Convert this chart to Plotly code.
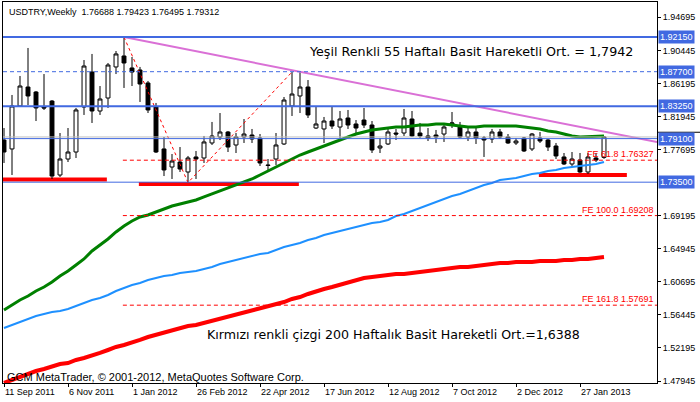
import pandas as pd
import plotly.graph_objects as go

# ---------------- data ----------------
START = "2011-09-11"
N_BARS = 76
DATES = pd.date_range(START, periods=N_BARS, freq="7D")

OPEN = [1.7892, 1.7777, 1.8329, 1.8573, 1.8509, 1.8316, 1.8393, 1.7442, 1.7648, 1.7738,
        1.8316, 1.8766, 1.8265, 1.8432, 1.8831, 1.8972, 1.8818, 1.8792, 1.8625, 1.8316,
        1.7777, 1.7545, 1.7609, 1.7481, 1.7674, 1.7661, 1.7854, 1.7931, 1.7995, 1.7828,
        1.7931, 1.7956, 1.7918, 1.7571, 1.7648, 1.7841, 1.8329, 1.8458, 1.8573, 1.8046,
        1.8034, 1.8136, 1.8059, 1.8175, 1.8098, 1.8149, 1.8085, 1.7789, 1.7841, 1.7982,
        1.7982, 1.8162, 1.7982, 1.7944, 1.7956, 1.7969, 1.8098, 1.8059, 1.7931, 1.7995,
        1.7918, 1.7905, 1.7995, 1.7931, 1.7854, 1.7918, 1.7777, 1.7918, 1.7892, 1.7815,
        1.7674, 1.7584, 1.7635, 1.7481, 1.7661, 1.76688]
HIGH = [1.8046, 1.8471, 1.8715, 1.9075, 1.8522, 1.8740, 1.8406, 1.7982, 1.8046, 1.8304,
        1.8920, 1.8998, 1.8586, 1.8882, 1.9036, 1.9215, 1.8959, 1.8831, 1.8651, 1.8368,
        1.7931, 1.7712, 1.7802, 1.7687, 1.7751, 1.7944, 1.8124, 1.8239, 1.8008, 1.7982,
        1.8162, 1.8034, 1.7969, 1.7648, 1.7982, 1.8445, 1.8766, 1.8770, 1.8663, 1.8316,
        1.8188, 1.8316, 1.8265, 1.8278, 1.8149, 1.8304, 1.8136, 1.7918, 1.8034, 1.8034,
        1.8291, 1.8265, 1.8111, 1.8046, 1.8021, 1.8085, 1.8252, 1.8124, 1.8046, 1.8046,
        1.7944, 1.8034, 1.8034, 1.7969, 1.7918, 1.7931, 1.7982, 1.7995, 1.7905, 1.7854,
        1.7725, 1.7738, 1.7725, 1.7725, 1.7725, 1.79423]
LOW = [1.7597, 1.7442, 1.8316, 1.8342, 1.8136, 1.8278, 1.7391, 1.7417, 1.7609, 1.7661,
       1.8214, 1.8111, 1.8214, 1.8304, 1.8740, 1.8561, 1.8586, 1.8381, 1.8239, 1.7725,
       1.7429, 1.7391, 1.7481, 1.7345, 1.7391, 1.7597, 1.7828, 1.7892, 1.7738, 1.7725,
       1.7854, 1.7854, 1.7558, 1.7507, 1.7571, 1.7828, 1.8201, 1.8239, 1.8175, 1.8034,
       1.7854, 1.8034, 1.7918, 1.8034, 1.7956, 1.8046, 1.7725, 1.7725, 1.7828, 1.7892,
       1.7944, 1.7931, 1.7918, 1.7879, 1.7854, 1.7867, 1.8046, 1.7918, 1.7879, 1.7841,
       1.7674, 1.7854, 1.7905, 1.7841, 1.7828, 1.7738, 1.7751, 1.7854, 1.7751, 1.7648,
       1.7571, 1.7545, 1.7468, 1.7455, 1.7609, 1.76495]
CLOSE = [1.7738, 1.8329, 1.8586, 1.8458, 1.8304, 1.8304, 1.7429, 1.7648, 1.7738, 1.8278,
         1.8843, 1.8265, 1.8419, 1.8856, 1.8998, 1.8882, 1.8766, 1.8612, 1.8278, 1.7738,
         1.7507, 1.7622, 1.7519, 1.7661, 1.7648, 1.7867, 1.7944, 1.7995, 1.7802, 1.7931,
         1.7969, 1.7905, 1.7597, 1.7565, 1.7828, 1.8406, 1.8483, 1.8573, 1.8214, 1.8098,
         1.8136, 1.8072, 1.8162, 1.8085, 1.8046, 1.8085, 1.7764, 1.7815, 1.7995, 1.7969,
         1.8175, 1.7944, 1.7944, 1.7918, 1.7931, 1.8059, 1.8111, 1.7931, 1.7995, 1.7918,
         1.7892, 1.7995, 1.7931, 1.7854, 1.7879, 1.7751, 1.7969, 1.7879, 1.7802, 1.7687,
         1.7584, 1.7648, 1.7481, 1.7674, 1.7635, 1.79312]

SMA_55 = [1.5707, 1.5771, 1.5836, 1.5887, 1.5951, 1.6003, 1.6067, 1.6144, 1.6208, 1.6286,
          1.6363, 1.6466, 1.6543, 1.6620, 1.6710, 1.6787, 1.6851, 1.6903, 1.6928, 1.6967,
          1.7005, 1.7044, 1.7070, 1.7095, 1.7121, 1.7160, 1.7198, 1.7237, 1.7275, 1.7314,
          1.7352, 1.7391, 1.7442, 1.7494, 1.7545, 1.7597, 1.7648, 1.7699, 1.7738, 1.7777,
          1.7815, 1.7854, 1.7892, 1.7931, 1.7969, 1.7995, 1.8021, 1.8034, 1.8046, 1.8059,
          1.8059, 1.8072, 1.8085, 1.8085, 1.8098, 1.8098, 1.8085, 1.8072, 1.8059, 1.8059,
          1.8072, 1.8072, 1.8072, 1.8072, 1.8072, 1.8059, 1.8046, 1.8034, 1.8008, 1.7995,
          1.7969, 1.7944, 1.7931, 1.7935, 1.7938, 1.7942]
SMA_100 = [1.5476, 1.5514, 1.5553, 1.5592, 1.5630, 1.5656, 1.5682, 1.5694, 1.5720, 1.5759,
           1.5797, 1.5836, 1.5861, 1.5900, 1.5951, 1.5990, 1.6029, 1.6054, 1.6093, 1.6119,
           1.6144, 1.6157, 1.6183, 1.6196, 1.6208, 1.6234, 1.6260, 1.6298, 1.6324, 1.6350,
           1.6376, 1.6401, 1.6427, 1.6440, 1.6478, 1.6517, 1.6543, 1.6568, 1.6607, 1.6633,
           1.6671, 1.6697, 1.6723, 1.6748, 1.6774, 1.6800, 1.6825, 1.6838, 1.6864, 1.6915,
           1.6941, 1.6980, 1.7018, 1.7057, 1.7095, 1.7134, 1.7172, 1.7198, 1.7237, 1.7275,
           1.7314, 1.7340, 1.7378, 1.7391, 1.7404, 1.7430, 1.7455, 1.7468, 1.7494, 1.7507,
           1.7532, 1.7545, 1.7558, 1.7571, 1.7584, 1.7609]
SMA_200 = [1.4769, 1.4808, 1.4846, 1.4885, 1.4923, 1.4949, 1.4987, 1.5013, 1.5026, 1.5065,
           1.5090, 1.5129, 1.5155, 1.5193, 1.5232, 1.5257, 1.5296, 1.5322, 1.5360, 1.5386,
           1.5424, 1.5450, 1.5476, 1.5502, 1.5514, 1.5540, 1.5566, 1.5604, 1.5630, 1.5656,
           1.5682, 1.5707, 1.5733, 1.5759, 1.5784, 1.5810, 1.5849, 1.5874, 1.5913, 1.5951,
           1.5977, 1.6003, 1.6029, 1.6054, 1.6093, 1.6119, 1.6131, 1.6144, 1.6157, 1.6170,
           1.6170, 1.6183, 1.6196, 1.6208, 1.6221, 1.6234, 1.6247, 1.6260, 1.6260, 1.6273,
           1.6286, 1.6298, 1.6311, 1.6311, 1.6324, 1.6324, 1.6324, 1.6337, 1.6337, 1.6337,
           1.6350, 1.6350, 1.6363, 1.6363, 1.6376, 1.6388]

for arr in (OPEN, HIGH, LOW, CLOSE, SMA_55, SMA_100, SMA_200):
    assert len(arr) == N_BARS, len(arr)

# axis ticks (1.73445 is hidden behind the 1.73500 box in the original)
Y_TICKS = [1.47945, 1.52195, 1.56445, 1.60695, 1.64945, 1.69195,
           1.77695, 1.81945, 1.86195, 1.90445, 1.94695]
X_TICK_LABELS = ["11 Sep 2011", "6 Nov 2011", "1 Jan 2012", "26 Feb 2012", "22 Apr 2012",
                 "17 Jun 2012", "12 Aug 2012", "7 Oct 2012", "2 Dec 2012", "27 Jan 2013"]

# horizontal levels (blue)
LEVELS = [1.92150, 1.87700, 1.83250, 1.79100, 1.73500]
LEVEL_STYLE = ["solid", "4px,3px", "solid", "solid", "solid"]
LEVEL_WIDTH = [2, 1, 2, 1, 1]
BID = 1.79312

# Fibonacci expansion
FE_NAMES = ["FE 61.8", "FE 100.0", "FE 161.8"]
FE_LEVELS = [1.76327, 1.69208, 1.57691]
FE_START = "2011-12-24"
FIB_IDX = [15, 23, 36]
FIB_PRICES = [1.9215, 1.7345, 1.8766]

# trend line (two anchor points)
TREND_IDX = [15, 36]
TREND_PRICES = [1.9215, 1.8790]

# red support segments
SUP_START = ["2011-09-10", "2012-01-07", "2012-12-22"]
SUP_END = ["2011-12-10", "2012-05-26", "2013-03-09"]
SUP_PRICE = [1.7384, 1.7328, 1.7442]

TITLE = "USDTRY,Weekly\u00a0\u00a01.76688 1.79423 1.76495 1.79312"
TXT_GREEN = "Yeşil Renkli 55 Haftalı Basit Hareketli Ort. = 1,7942"
TXT_RED = "Kırmızı renkli çizgi 200 Haftalık Basit Hareketli Ort.=1,6388"
TXT_COPY = "GCM MetaTrader, © 2001-2012, MetaQuotes Software Corp."

X_START = pd.Timestamp("2011-09-10 03:00")
X_END = pd.Timestamp("2013-04-04 09:00")
Y_RANGE = [1.47689, 1.96659]

ROYAL = "#4169E1"
SMALL = dict(family="Liberation Sans, Arial, sans-serif", size=9, color="black")

# ---------------- figure ----------------
fig = go.Figure()
fig.add_trace(go.Candlestick(
    x=DATES, open=OPEN, high=HIGH, low=LOW, close=CLOSE,
    increasing=dict(line=dict(color="black", width=1), fillcolor="white"),
    decreasing=dict(line=dict(color="black", width=1), fillcolor="black"),
    whiskerwidth=0, hoverinfo="skip", showlegend=False))

fig.add_trace(go.Scatter(x=DATES, y=SMA_200, mode="lines",
                         line=dict(color="#FF0000", width=4), showlegend=False))
fig.add_trace(go.Scatter(x=DATES, y=SMA_100, mode="lines",
                         line=dict(color="#1E90FF", width=2), showlegend=False))
fig.add_trace(go.Scatter(x=DATES, y=SMA_55, mode="lines",
                         line=dict(color="#008000", width=3), showlegend=False))

# Fibonacci zigzag
fig.add_trace(go.Scatter(x=[DATES[i] for i in FIB_IDX], y=FIB_PRICES, mode="lines",
                         line=dict(color="#FF0000", width=1, dash="dot"), showlegend=False))

# trend line extended to right edge
d0, d1 = DATES[TREND_IDX[0]], DATES[TREND_IDX[1]]
slope = (TREND_PRICES[1] - TREND_PRICES[0]) / (d1 - d0).total_seconds()
p_end = TREND_PRICES[0] + slope * (X_END - d0).total_seconds()
fig.add_trace(go.Scatter(x=[d0, X_END], y=[TREND_PRICES[0], p_end], mode="lines",
                         line=dict(color="#DA70D6", width=2), showlegend=False))

shapes = []
shapes.append(dict(type="line", xref="paper", x0=0, x1=1, yref="y", y0=BID, y1=BID,
                   line=dict(color="#C0C0C0", width=1), layer="above"))
for lv, st, w in zip(LEVELS, LEVEL_STYLE, LEVEL_WIDTH):
    shapes.append(dict(type="line", xref="paper", x0=0, x1=1, yref="y", y0=lv, y1=lv,
                       line=dict(color=ROYAL, width=w, dash=st), layer="above"))
for lv in FE_LEVELS:
    shapes.append(dict(type="line", xref="x", x0=FE_START, x1=X_END, yref="y", y0=lv, y1=lv,
                       line=dict(color="#FF0000", width=1, dash="4px,3px"), layer="above"))
for s, e, p in zip(SUP_START, SUP_END, SUP_PRICE):
    shapes.append(dict(type="line", xref="x", x0=s, x1=e, yref="y", y0=p, y1=p,
                       line=dict(color="#FF0000", width=4), layer="below"))
# edge of the bid-price marker peeking above the 1.79100 box on the axis
shapes.append(dict(type="rect", xref="paper", x0=1.0015, x1=1.07, yref="y",
                   y0=BID + 0.0054, y1=BID + 0.0068, line=dict(width=0),
                   fillcolor="black", layer="above"))

ann = []
ann.append(dict(xref="paper", yref="paper", x=0, y=1, xanchor="left", yanchor="top",
                xshift=4, yshift=-3, text=TITLE, showarrow=False, font=SMALL))
for name, lv in zip(FE_NAMES, FE_LEVELS):
    ann.append(dict(xref="paper", yref="y", x=1, y=lv, xanchor="right", yanchor="bottom",
                    xshift=-1, yshift=-1, text=f"{name} {lv:.5f}", showarrow=False,
                    font=dict(family=SMALL["family"], size=9, color="#FF0000")))
ann.append(dict(xref="paper", yref="paper", x=0.4648, y=0.8688, xanchor="left", yanchor="middle",
                text=TXT_GREEN, showarrow=False,
                font=dict(family="DejaVu Sans", size=12.7, color="black")))
ann.append(dict(xref="paper", yref="paper", x=0.3089, y=0.1286, xanchor="left", yanchor="middle",
                text=TXT_RED, showarrow=False,
                font=dict(family="DejaVu Sans", size=12.6, color="black")))
ann.append(dict(xref="paper", yref="paper", x=0, y=0.0165, xanchor="left", yanchor="middle",
                xshift=2, text=TXT_COPY, showarrow=False,
                font=dict(family=SMALL["family"], size=11, color="black")))
for lv in LEVELS:
    ann.append(dict(xref="paper", yref="y", x=1, y=lv, xanchor="left", yanchor="middle",
                    xshift=1, text=f"{lv:.5f}", showarrow=False, bgcolor=ROYAL,
                    borderpad=1, font=dict(family=SMALL["family"], size=9, color="white")))

fig.update_layout(
    width=700, height=402,
    margin=dict(l=3, r=43, t=2, b=19, autoexpand=False),
    paper_bgcolor="white", plot_bgcolor="white",
    shapes=shapes, annotations=ann, showlegend=False,
    xaxis=dict(type="date", range=[X_START, X_END], rangeslider=dict(visible=False),
               tickvals=list(DATES[::8]), ticktext=X_TICK_LABELS, automargin=False,
               ticklabelposition="outside right", ticks="outside", ticklen=3,
               tickcolor="black", showline=True, linecolor="black", linewidth=1,
               mirror=True, showgrid=False, zeroline=False, tickfont=SMALL),
    yaxis=dict(side="right", range=Y_RANGE, tickvals=Y_TICKS, automargin=False,
               ticktext=[f"{v:.5f}" for v in Y_TICKS], ticks="outside", ticklen=3,
               tickcolor="black", showline=True, linecolor="black", linewidth=1,
               mirror=True, showgrid=False, zeroline=False, tickfont=SMALL),
)

fig.write_html("out.html", config={"displayModeBar": False},
               post_script="document.body.style.margin='0';")
